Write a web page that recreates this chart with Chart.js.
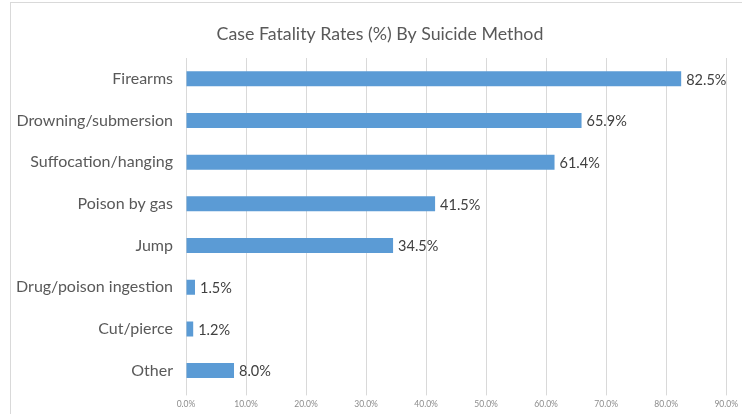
<!DOCTYPE html>
<html>
<head>
<meta charset="utf-8">
<script src="https://cdn.jsdelivr.net/npm/chart.js@4/dist/chart.umd.min.js"></script>
<style>
  html, body { margin: 0; padding: 0; background: #fff; }
  #wrap { width: 742px; height: 414px; position: relative; }
</style>
</head>
<body>
<div id="wrap"><canvas id="c" width="742" height="414"></canvas></div>
<script>
const categories = ["Firearms", "Drowning/submersion", "Suffocation/hanging", "Poison by gas", "Jump", "Drug/poison ingestion", "Cut/pierce", "Other"];
const fatalityRates = [82.5, 65.9, 61.4, 41.5, 34.5, 1.5, 1.2, 8.0];
const xTickValues = [0, 10, 20, 30, 40, 50, 60, 70, 80, 90];
const chartTitle = "Case Fatality Rates (%) By Suicide Method";

const FONT = "Lato, 'Open Sans', sans-serif";

const framePlugin = {
  id: 'frame',
  beforeDraw(chart) {
    const ctx = chart.ctx;
    ctx.save();
    ctx.fillStyle = '#ffffff';
    ctx.fillRect(0, 0, chart.width, chart.height);
    ctx.strokeStyle = '#d9d9d9';
    ctx.lineWidth = 1;
    ctx.strokeRect(10.5, 2.5, 900, 600);
    ctx.font = "17.8px " + FONT;
    ctx.fillStyle = '#595959';
    ctx.textAlign = 'center';
    ctx.textBaseline = 'middle';
    ctx.fillText(chartTitle, 380, 34);
    ctx.restore();
  }
};

const valueLabels = {
  id: 'valueLabels',
  afterDatasetsDraw(chart) {
    const ctx = chart.ctx;
    const meta = chart.getDatasetMeta(0);
    ctx.save();
    ctx.font = "14.5px " + FONT;
    ctx.fillStyle = '#404040';
    ctx.textAlign = 'left';
    ctx.textBaseline = 'middle';
    meta.data.forEach((bar, i) => {
      const v = chart.data.datasets[0].data[i];
      ctx.fillText(v.toFixed(1) + '%', bar.x + 5, bar.y + 1);
    });
    ctx.restore();
  }
};

new Chart(document.getElementById('c'), {
  type: 'bar',
  data: {
    labels: categories,
    datasets: [{
      data: fatalityRates,
      backgroundColor: '#5b9bd5',
      borderWidth: 0,
      barPercentage: 0.72,
      categoryPercentage: 0.5
    }]
  },
  options: {
    indexAxis: 'y',
    responsive: false,
    animation: false,
    devicePixelRatio: 1,
    layout: { padding: { left: 0, right: 13, top: 58, bottom: 0 } },
    plugins: {
      legend: { display: false },
      tooltip: { enabled: false },
      title: { display: false }
    },
    scales: {
      x: {
        min: 0,
        max: 90,
        afterBuildTicks(scale) { scale.ticks = xTickValues.map(v => ({ value: v })); },
        afterFit(scale) { scale.height = 21; },
        grid: { color: '#d9d9d9', drawTicks: true, tickLength: 4 },
        border: { display: false },
        ticks: {
          color: '#8c8c8c',
          font: { family: FONT, size: 8.5 },
          padding: 4,
          maxRotation: 0,
          callback: (v) => Number(v).toFixed(1) + '%'
        }
      },
      y: {
        afterFit(scale) { scale.width = 186; },
        grid: { display: false, drawTicks: false },
        border: { display: false },
        ticks: {
          color: '#595959',
          font: { family: FONT, size: 16 },
          padding: 13
        }
      }
    }
  },
  plugins: [framePlugin, valueLabels]
});
</script>
</body>
</html>
